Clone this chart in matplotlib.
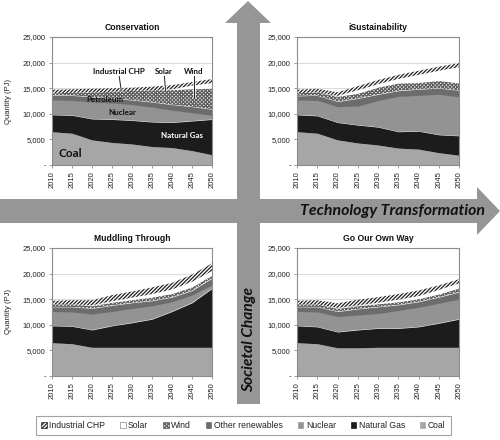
import numpy as np
import matplotlib
matplotlib.use('Agg')
import matplotlib.pyplot as plt
from matplotlib.patches import Polygon, Patch
from matplotlib.ticker import FuncFormatter

years = [2010, 2015, 2020, 2025, 2030, 2035, 2040, 2045, 2050]
year_ticks = ['2010', '2015', '2020', '2025', '2030', '2035', '2040', '2045', '2050']
sources = ['Coal', 'Natural Gas', 'Nuclear', 'Other renewables', 'Wind', 'Solar', 'Industrial CHP']

# Conservation (PJ)
cons_coal = [6500, 6200, 4900, 4400, 4100, 3600, 3400, 2800, 2000]
cons_gas = [3300, 3500, 4100, 4500, 4600, 4800, 4900, 5800, 6900]
cons_nuclear = [2900, 2900, 3300, 3200, 3100, 2900, 2400, 1600, 800]
cons_other = [900, 1000, 1000, 900, 900, 1000, 1100, 1200, 1200]
cons_wind = [400, 500, 900, 1300, 1800, 2300, 2900, 3500, 4100]
cons_solar = [0, 0, 0, 0, 0, 0, 100, 600, 1000]
cons_chp = [700, 700, 700, 700, 600, 700, 800, 700, 800]

# iSustainability (PJ)
isus_coal = [6500, 6200, 4900, 4300, 3900, 3300, 3100, 2400, 1900]
isus_gas = [3300, 3400, 3400, 3500, 3500, 3200, 3500, 3500, 3800]
isus_nuclear = [2900, 3000, 3100, 3700, 5200, 6900, 7000, 7900, 7600]
isus_other = [800, 1000, 1000, 1500, 1200, 1100, 1200, 1200, 1300]
isus_wind = [500, 600, 1000, 1000, 1400, 1500, 1300, 1500, 1400]
isus_solar = [0, 0, 100, 600, 600, 800, 1500, 1900, 3100]
isus_chp = [700, 700, 700, 800, 800, 800, 800, 800, 800]

# Muddling Through (PJ)
mud_coal = [6500, 6300, 5600, 5600, 5600, 5600, 5600, 5600, 5600]
mud_gas = [3300, 3400, 3400, 4200, 4800, 5500, 7000, 8700, 11500]
mud_nuclear = [2800, 2800, 3100, 2800, 2800, 2600, 1900, 1500, 700]
mud_other = [900, 1000, 1100, 1200, 1100, 1000, 900, 900, 1300]
mud_wind = [500, 500, 500, 600, 600, 700, 700, 700, 600]
mud_solar = [0, 0, 100, 200, 400, 600, 800, 1000, 800]
mud_chp = [700, 800, 1000, 1200, 1200, 1300, 1300, 1400, 1500]

# Go Our Own Way (PJ)
goow_coal = [6500, 6300, 5500, 5500, 5600, 5600, 5600, 5600, 5600]
goow_gas = [3300, 3300, 3100, 3500, 3700, 3700, 4000, 4700, 5500]
goow_nuclear = [2800, 2900, 3000, 2900, 2900, 3500, 3800, 3900, 3900]
goow_other = [900, 1000, 1000, 1200, 1300, 1100, 1100, 1200, 1400]
goow_wind = [500, 500, 600, 600, 600, 600, 600, 600, 800]
goow_solar = [0, 0, 100, 100, 200, 400, 500, 800, 900]
goow_chp = [700, 800, 900, 1100, 1100, 1100, 1100, 900, 800]

titles = ['Conservation', 'iSustainability', 'Muddling Through', 'Go Our Own Way']
scenarios = [
    [cons_coal, cons_gas, cons_nuclear, cons_other, cons_wind, cons_solar, cons_chp],
    [isus_coal, isus_gas, isus_nuclear, isus_other, isus_wind, isus_solar, isus_chp],
    [mud_coal, mud_gas, mud_nuclear, mud_other, mud_wind, mud_solar, mud_chp],
    [goow_coal, goow_gas, goow_nuclear, goow_other, goow_wind, goow_solar, goow_chp],
]

styles = {
    'Coal': dict(facecolor='#a6a6a6', edgecolor='#a6a6a6', hatch=None),
    'Natural Gas': dict(facecolor='#1c1c1c', edgecolor='#1c1c1c', hatch=None),
    'Nuclear': dict(facecolor='#8e8e8e', edgecolor='#9c9c9c', hatch='........'),
    'Other renewables': dict(facecolor='#6c6c6c', edgecolor='#6c6c6c', hatch=None),
    'Wind': dict(facecolor='#f2f2f2', edgecolor='#5e5e5e', hatch='xxxxxxxxx'),
    'Solar': dict(facecolor='#ffffff', edgecolor='#ffffff', hatch=None),
    'Industrial CHP': dict(facecolor='#ffffff', edgecolor='#1e1e1e', hatch='/////////'),
}

plt.rcParams['hatch.linewidth'] = 0.9
plt.rcParams['font.family'] = ['Liberation Sans', 'DejaVu Sans']

W, H = 500, 440
fig = plt.figure(figsize=(5, 4.4), dpi=100)
fig.patch.set_facecolor('white')

def fx(px):
    return px / W

def fy(py):
    return 1 - py / H

# Arrows (decoration)
arrow_col = '#969696'
vert = [(248, 1), (271, 23), (260, 23), (260, 404), (237, 404), (237, 23), (225, 23)]
horiz = [(0, 199), (477, 199), (477, 187), (500, 211), (477, 235), (477, 223), (0, 223)]
for pts in (horiz, vert):
    fig.patches.append(Polygon([(fx(x), fy(y)) for x, y in pts], closed=True,
                               transform=fig.transFigure, facecolor=arrow_col,
                               edgecolor='none', zorder=0))
fig.text(fx(485), fy(211), 'Technology Transformation', ha='right', va='center',
         fontsize=11.4, fontweight='bold', fontstyle='italic', family=['Lato', 'DejaVu Sans'],
         color='#111111')
fig.text(fx(249), fy(339), 'Societal Change', ha='center', va='center', rotation=90,
         fontsize=11.2, fontweight='bold', fontstyle='italic', family=['Lato', 'DejaVu Sans'],
         color='#111111')

positions = [
    (52, 37, 212, 165),
    (297, 37, 459, 165),
    (52, 248, 212, 376),
    (297, 248, 459, 376),
]

fmt = FuncFormatter(lambda v, p: '-' if v == 0 else f'{int(v):,}')
axes = []
for i, (x0, y0, x1, y1) in enumerate(positions):
    ax = fig.add_axes([fx(x0), fy(y1), fx(x1) - fx(x0), (y1 - y0) / H])
    axes.append(ax)
    data = np.array(scenarios[i], dtype=float)
    cum = np.vstack([np.zeros(len(years)), np.cumsum(data, axis=0)])
    for k, s in enumerate(sources):
        st = styles[s]
        ax.fill_between(years, cum[k], cum[k + 1], facecolor=st['facecolor'],
                        edgecolor=st['edgecolor'], hatch=st['hatch'], linewidth=0,
                        zorder=2)
    ax.set_xlim(2010, 2050)
    ax.set_ylim(0, 25000)
    ax.set_yticks([0, 5000, 10000, 15000, 20000, 25000])
    ax.yaxis.set_major_formatter(fmt)
    ax.set_xticks(years)
    ax.set_xticklabels(year_ticks, rotation=90)
    ax.grid(axis='y', color='#dcdcdc', linewidth=0.8, zorder=0)
    ax.set_axisbelow(True)
    for sp in ax.spines.values():
        sp.set_color('#8c8c8c')
        sp.set_linewidth(0.8)
        sp.set_zorder(3)
    ax.tick_params(axis='both', labelsize=5.5, length=2.5, width=0.6, color='#8c8c8c',
                   pad=2, labelcolor='#222222')
    ax.set_title(titles[i], fontsize=6.2, fontweight='bold', pad=5, color='#111111')
    if i in (0, 2):
        ax.set_ylabel('Quantity (PJ)', fontsize=5.5, color='#222222')
        ax.yaxis.set_label_coords(-0.25, 0.5)

# Annotations on Conservation panel
ax = axes[0]
lab = dict(fontsize=5.8, fontweight='bold', family=['Lato', 'DejaVu Sans'], ha='center', va='center', zorder=5)
ax.text(2026.8, 18200, 'Industrial CHP', color='#111111', **lab)
ax.text(2038.0, 18200, 'Solar', color='#111111', **lab)
ax.text(2045.3, 18200, 'Wind', color='#111111', **lab)
ax.text(2023.3, 12700, 'Petroleum', color='#111111', **lab)
ax.text(2027.5, 10350, 'Nuclear', color='#111111', **lab)
ax.text(2042.5, 5850, 'Natural Gas', color='white', **lab)
ax.text(2014.5, 2150, 'Coal', color='#111111', fontsize=8.5, fontweight='bold',
        family=['Lato', 'DejaVu Sans'], ha='center', va='center', zorder=5)
for (xa, ya, xb, yb) in [(2026.8, 17300, 2027.3, 14600), (2038.1, 17300, 2038.4, 14500),
                         (2045.6, 17300, 2045.6, 13100)]:
    ax.plot([xa, xb], [ya, yb], color='white', lw=1.8, zorder=4, solid_capstyle='butt')
    ax.plot([xa, xb], [ya, yb], color='#222222', lw=0.7, zorder=4.5)

# Legend
handles = []
leg_order = ['Industrial CHP', 'Solar', 'Wind', 'Other renewables', 'Nuclear', 'Natural Gas', 'Coal']
for s in leg_order:
    st = styles[s]
    ec = '#888888' if s == 'Solar' else st['edgecolor']
    handles.append(Patch(facecolor=st['facecolor'], edgecolor=ec, hatch=st['hatch'], linewidth=0.5))
leg = fig.legend(handles, leg_order, loc='center', ncol=7, mode='expand',
                 bbox_to_anchor=(fx(32), fy(439), (455 - 32) / W, 27 / H),
                 fontsize=6.2, handlelength=0.6, handleheight=0.6, handletextpad=0.3,
                 columnspacing=1.0, frameon=True, fancybox=False, borderpad=0.6)
leg.get_frame().set_edgecolor('#8c8c8c')
leg.get_frame().set_linewidth(0.8)
for t in leg.get_texts():
    t.set_color('#222222')

fig.savefig('out.png', dpi=100, facecolor='white')
